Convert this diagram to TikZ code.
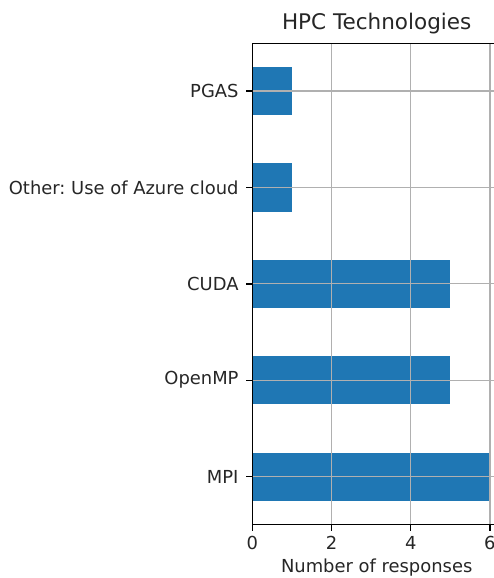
\documentclass[tikz,border=0pt]{standalone}
\usepackage{fontspec}
\setmainfont{DejaVu Sans}
\frenchspacing
\definecolor{barblue}{HTML}{1F77B4}
\definecolor{gridgray}{HTML}{B0B0B0}
\definecolor{textgray}{HTML}{262626}
\begin{document}
\begin{tikzpicture}[x=0.72pt,y=-0.72pt,
  bar/.style={fill=barblue,draw=none},
  gridline/.style={draw=gridgray,line width=0.9pt},
  spine/.style={draw=black,line width=1pt},
  tickmark/.style={draw=black,line width=1pt},
  ticklabel/.style={font=\fontsize{12.9}{15}\selectfont,text=textgray,inner sep=0pt},
  titlelabel/.style={font=\fontsize{15.5}{18}\selectfont,text=textgray,inner sep=0pt}]
\useasboundingbox (0,0) rectangle (494,578);
% axes geometry in pixels: x0 at left spine, 39.6 px per response, 96.4 px per category
\def\xo{252.3}
\def\xs{39.6}
\def\ytop{43.3}
\def\ybot{524.3}
\def\xright{501.8}
% bars
\foreach \i/\v/\nm in {0/1/pgas,1/1/azure,2/5/cuda,3/5/openmp,4/6/mpi}{
  \pgfmathsetmacro\yc{91+96.4*\i}
  \pgfmathsetmacro\xe{\xo+\xs*\v}
  \path[bar] (\xo,\yc-24.1) rectangle (\xe,\yc+24.1);
}
% grid (drawn over the bars)
\foreach \t in {0,2,4,6}{
  \pgfmathsetmacro\xt{\xo+\xs*\t}
  \coordinate (gt\t) at (\xt,\ytop);
  \coordinate (gb\t) at (\xt,\ybot);
  \draw[gridline] (gt\t) -- (gb\t);
}
\foreach \i in {0,...,4}{
  \pgfmathsetmacro\yc{91+96.4*\i}
  \coordinate (gl\i) at (\xo,\yc);
  \coordinate (gr\i) at (\xright,\yc);
  \draw[gridline] (gl\i) -- (gr\i);
}
% spines
\coordinate (tl) at (\xo,\ytop);
\coordinate (bl) at (\xo,\ybot);
\coordinate (tr) at (\xright,\ytop);
\coordinate (br) at (\xright,\ybot);
\draw[spine] (tr) -- (tl) -- (bl) -- (br) -- (tr);
% y ticks and labels
\foreach \i/\lab in {0/PGAS,1/{Other: Use of Azure cloud},2/CUDA,3/OpenMP,4/MPI}{
  \pgfmathsetmacro\yc{91+96.4*\i}
  \coordinate (yt\i) at (\xo-6.2,\yc);
  \draw[tickmark] (gl\i) -- (yt\i);
  \node[ticklabel,anchor=east] (ylab\i) at (\xo-13.5,\yc) {\lab};
}
% x ticks and labels
\foreach \t in {0,2,4,6}{
  \pgfmathsetmacro\xt{\xo+\xs*\t}
  \coordinate (xt\t) at (\xt,\ybot+6.2);
  \draw[tickmark] (gb\t) -- (xt\t);
  \node[ticklabel] (xlab\t) at (\xt,545.5) {\strut\t};
}
\node[ticklabel] (xaxislabel) at (376.7,568) {Number of responses};
\node[titlelabel] (title) at (376.7,23.5) {HPC Technologies};
\end{tikzpicture}
\end{document}
